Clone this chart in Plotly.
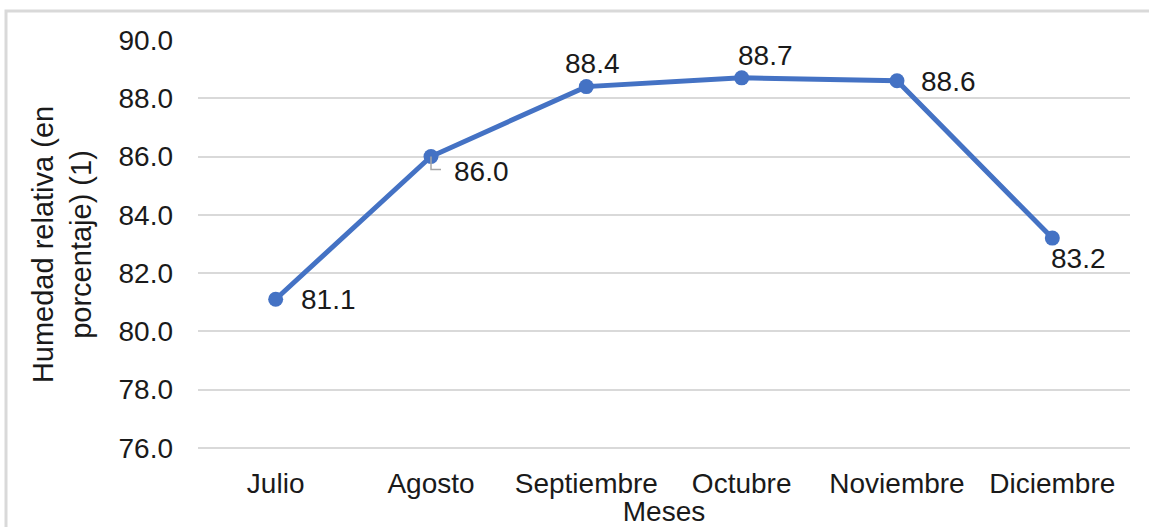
import plotly.graph_objects as go

meses = ["Julio", "Agosto", "Septiembre", "Octubre", "Noviembre", "Diciembre"]
humedad = [81.1, 86.0, 88.4, 88.7, 88.6, 83.2]
y_min, y_max, y_paso = 76, 90, 2

# desplazamiento de cada etiqueta (px) respecto al punto
label_dx = [23, 21, 6, 24, 22, -3]
label_dy = [0, -15, 23, 22, -1, -20]
label_anchor = ["left", "left", "center", "center", "left", "left"]

AZUL = "#4472C4"
GRIS = "#d9d9d9"
FUENTE = "Liberation Sans, Arial, sans-serif"
TAM = 28

fig = go.Figure(
    go.Scatter(
        x=meses,
        y=humedad,
        mode="lines+markers",
        line=dict(color=AZUL, width=5),
        marker=dict(color=AZUL, size=15),
        hoverinfo="x+y",
    )
)

for mes, val, dx, dy, anc in zip(meses, humedad, label_dx, label_dy, label_anchor):
    fig.add_annotation(
        x=mes, y=val, text=f"{val:.1f}", showarrow=False,
        xanchor=anc, yanchor="middle", xshift=dx, yshift=dy,
        font=dict(size=TAM, color="#1a1a1a", family=FUENTE),
    )

# línea guía de la etiqueta de agosto
fig.add_shape(
    type="path", xref="x", yref="y",
    xsizemode="pixel", ysizemode="pixel",
    xanchor=meses[1], yanchor=humedad[1],
    path="M 0 0 L 0 -13 L 10 -13",
    line=dict(color="#a6a6a6", width=1.5),
)

# marco del gráfico
fig.add_shape(
    type="rect", xref="paper", yref="paper",
    x0=-0.206, x1=1.03, y0=-0.25, y1=1.071,
    line=dict(color=GRIS, width=3), layer="below",
)

fig.update_layout(
    width=1149, height=527,
    margin=dict(l=198, r=19, t=40, b=78),
    plot_bgcolor="rgba(0,0,0,0)", paper_bgcolor="white",
    font=dict(family=FUENTE, size=TAM, color="#1a1a1a"),
    showlegend=False,
)
fig.update_xaxes(
    range=[-0.5, len(meses) - 0.5], automargin=False,
    showgrid=False, zeroline=False, showline=False,
    ticks="", ticklabelstandoff=15,
    title=dict(text="Meses", standoff=0, font=dict(size=TAM)),
)
# el rango baja un poco de 76 para que plotly dibuje esa línea de cuadrícula
fig.update_yaxes(
    range=[y_min - 0.04, y_max], tick0=y_min, dtick=y_paso, tickformat=".1f",
    automargin=False,
    showgrid=True, gridcolor=GRIS, gridwidth=2,
    zeroline=False, showline=False, ticks="", ticklabelstandoff=24,
    title=dict(text="Humedad relativa (en<br>porcentaje) (1)", standoff=18, font=dict(size=29)),
)

fig.write_html(
    "out.html",
    config={"displayModeBar": False},
    post_script="document.body.style.margin='0px';",
)
